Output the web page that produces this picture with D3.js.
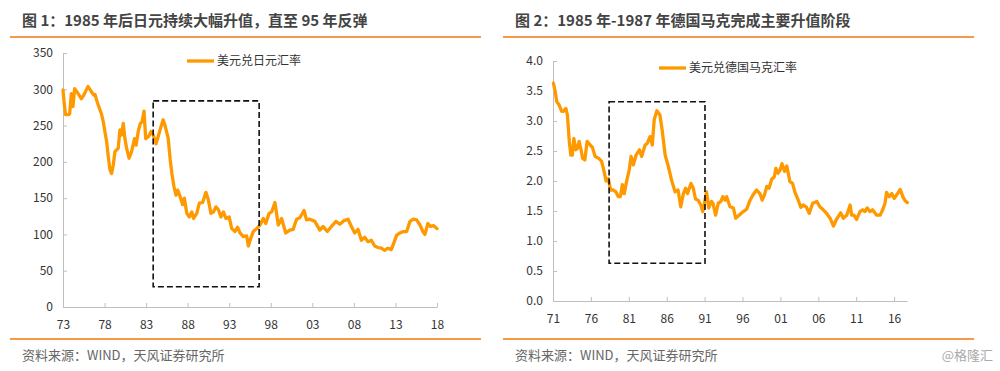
<!DOCTYPE html>
<html>
<head>
<meta charset="utf-8">
<script src="https://cdn.jsdelivr.net/npm/d3@7"></script>
<style>
  body { margin: 0; background: #fff; }
  text { font-family: "Noto Sans CJK SC", "Noto Sans", sans-serif; }
  .axis path, .axis line { stroke: #bfbfbf; }
  .axis text { fill: #333; font-size: 12px; }
</style>
</head>
<body>
<svg id="chart" width="1000" height="371"></svg>
<script>
// ---- data ----
var jpyYears = [1973.0,1973.15,1973.3,1973.6,1973.8,1974.0,1974.2,1974.4,1974.7,1975.2,1975.5,1976.0,1976.4,1976.7,1976.85,1977.05,1977.25,1977.6,1977.85,1978.05,1978.25,1978.45,1978.65,1978.85,1979.05,1979.25,1979.65,1979.85,1980.05,1980.25,1980.45,1980.65,1980.95,1981.25,1981.6,1981.8,1982.05,1982.3,1982.5,1982.75,1982.95,1983.3,1983.6,1983.85,1984.2,1984.45,1984.65,1985.05,1985.3,1985.65,1985.9,1986.1,1986.35,1986.6,1986.8,1987.1,1987.4,1987.6,1987.9,1988.2,1988.5,1988.7,1989.1,1989.4,1989.8,1990.2,1990.5,1990.8,1991.1,1991.4,1991.7,1992.0,1992.3,1992.6,1993.0,1993.3,1993.7,1994.0,1994.3,1994.7,1995.1,1995.3,1995.6,1995.9,1996.3,1996.7,1997.1,1997.4,1997.8,1998.1,1998.5,1998.9,1999.3,1999.8,2000.3,2000.7,2001.1,2001.5,2002.0,2002.3,2002.7,2003.3,2003.9,2004.3,2004.8,2005.3,2005.85,2006.3,2006.8,2007.3,2007.7,2008.1,2008.5,2008.9,2009.3,2009.7,2010.1,2010.5,2010.9,2011.3,2011.7,2012.1,2012.5,2012.8,2013.15,2013.55,2013.95,2014.35,2014.75,2015.15,2015.55,2015.95,2016.3,2016.55,2016.9,2017.2,2017.6,2018.0];
var jpyRates = [299,280,265,265,266,294,276,301,296,287,292,304,297,292,293,285,278,267,255,241,228,207,189,184,196,214,219,244,237,253,232,219,205,214,232,223,242,253,255,270,232,235,242,237,225,235,243,258,249,233,203,184,166,154,161,152,141,150,129,124,131,122,129,143,144,158,147,129,131,138,134,124,131,122,124,108,104,110,102,97,98,84,95,104,108,113,122,115,129,131,144,113,122,102,106,107,121,123,133,120,121,118,106,111,104,111,118,114,119,121,111,102,107,92,96,90,92,84,82,81,78,81,79,88,99,102,104,104,118,121,120,113,104,100,115,111,112,108];

var demYears = [1971.05,1971.25,1971.5,1971.8,1972.15,1972.35,1972.7,1972.9,1973.15,1973.35,1973.55,1973.75,1974.0,1974.2,1974.45,1974.7,1974.9,1975.2,1975.5,1975.9,1976.2,1976.55,1977.0,1977.4,1977.7,1978.0,1978.3,1978.6,1978.95,1979.3,1979.6,1979.9,1980.15,1980.4,1980.7,1981.05,1981.3,1981.6,1981.95,1982.4,1982.7,1983.15,1983.45,1983.8,1984.1,1984.35,1984.7,1985.1,1985.4,1985.8,1986.2,1986.65,1987.1,1987.5,1987.85,1988.2,1988.5,1988.75,1989.2,1989.5,1989.8,1990.15,1990.5,1990.75,1991.05,1991.25,1991.55,1991.9,1992.1,1992.45,1992.8,1993.15,1993.4,1993.7,1993.9,1994.35,1994.8,1995.1,1995.55,1996.1,1996.55,1997.0,1997.4,1997.85,1998.3,1998.6,1998.95,1999.2,1999.5,1999.85,2000.2,2000.4,2000.7,2000.95,2001.2,2001.55,2001.85,2002.25,2002.6,2002.9,2003.35,2003.7,2004.0,2004.4,2004.8,2005.25,2005.8,2006.2,2006.65,2007.1,2007.55,2008.0,2008.35,2008.65,2008.95,2009.3,2009.75,2010.2,2010.4,2010.7,2011.05,2011.5,2011.85,2012.15,2012.45,2012.8,2013.15,2013.7,2014.15,2014.5,2014.8,2015.0,2015.35,2015.7,2016.0,2016.35,2016.8,2017.15,2017.45,2017.75];
var demRates = [3.63,3.52,3.32,3.27,3.16,3.16,3.21,3.10,2.66,2.43,2.43,2.71,2.52,2.54,2.66,2.52,2.38,2.35,2.66,2.60,2.56,2.41,2.38,2.33,2.18,2.00,2.04,1.85,1.85,1.82,1.74,1.74,1.94,1.79,1.99,2.18,2.41,2.27,2.43,2.52,2.41,2.60,2.63,2.74,2.60,3.02,3.17,3.10,2.85,2.43,2.25,2.01,1.82,1.85,1.57,1.79,1.88,1.79,1.96,1.88,1.70,1.68,1.60,1.49,1.68,1.82,1.55,1.66,1.63,1.43,1.63,1.66,1.74,1.68,1.74,1.57,1.55,1.38,1.43,1.49,1.53,1.68,1.77,1.85,1.79,1.68,1.79,1.91,1.88,2.03,2.07,2.21,2.13,2.18,2.29,2.16,2.25,1.99,1.96,1.82,1.68,1.56,1.60,1.57,1.46,1.63,1.66,1.57,1.52,1.46,1.38,1.25,1.35,1.41,1.47,1.38,1.43,1.60,1.43,1.43,1.36,1.49,1.52,1.49,1.55,1.49,1.52,1.43,1.43,1.52,1.63,1.81,1.74,1.79,1.71,1.77,1.86,1.74,1.67,1.64];

var jpyYTicks = [0,50,100,150,200,250,300,350];
var demYTicks = [0,0.5,1,1.5,2,2.5,3,3.5,4];
var jpyXTicks = [1973,1978,1983,1988,1993,1998,2003,2008,2013,2018];
var demXTicks = [1971,1976,1981,1986,1991,1996,2001,2006,2011,2016];

// highlighted period boxes [x0, x1, y0, y1] in data units
var jpyBox = [1983.85, 1996.6, 28, 284];
var demBox = [1978.4, 1991.05, 0.63, 3.32];

var titles = ["图 1：1985 年后日元持续大幅升值，直至 95 年反弹", "图 2：1985 年-1987 年德国马克完成主要升值阶段"];
var legends = ["美元兑日元汇率", "美元兑德国马克汇率"];
var sourceText = "资料来源：WIND，天风证券研究所";

var orange = "#ff9900";
var rule = "#f39a4b";

var svg = d3.select("#chart");

function drawPanel(p){
    var g = svg.append("g").attr("class", "panel");

    // title + rules
    g.append("text").attr("x", p.left + 12).attr("y", 26)
        .style("font-size", "15px").style("font-weight", "bold").style("fill", "#444")
        .text(p.title);
    g.append("line").attr("x1", p.left).attr("x2", p.left + 471).attr("y1", 37).attr("y2", 37)
        .style("stroke", rule).style("stroke-width", 2);
    g.append("line").attr("x1", p.left).attr("x2", p.left + 471).attr("y1", 339).attr("y2", 339)
        .style("stroke", rule).style("stroke-width", 2);
    g.append("text").attr("x", p.left + 12).attr("y", 360)
        .style("font-size", "13px").style("fill", "#666")
        .text(sourceText);

    var x = d3.scaleLinear().domain(p.xDomain).range(p.xRange);
    var y = d3.scaleLinear().domain(p.yDomain).range(p.yRange);

    // axes, ticks point inward
    var yAxis = d3.axisLeft(y).tickValues(p.yTicks).tickSizeInner(-4).tickSizeOuter(0)
        .tickPadding(10).tickFormat(p.yFormat);
    g.append("g").attr("class", "axis").attr("transform", "translate(" + p.xRange[0] + ",0)")
        .call(yAxis);

    var xAxis = d3.axisBottom(x).tickValues(p.xTicks).tickSizeInner(-4).tickSizeOuter(0)
        .tickPadding(13).tickFormat(function(d){ return d3.format("02d")(d % 100); });
    g.append("g").attr("class", "axis").attr("transform", "translate(0," + p.yRange[0] + ")")
        .call(xAxis);

    // the series
    var pts = p.years.map(function(d, i){ return [d, p.rates[i]]; });
    var line = d3.line().x(function(d){ return x(d[0]); }).y(function(d){ return y(d[1]); });
    g.append("path").datum(pts).attr("d", line)
        .style("fill", "none").style("stroke", orange).style("stroke-width", 3.3)
        .style("stroke-linejoin", "round").style("stroke-linecap", "round");

    // dashed box
    g.append("rect")
        .attr("x", x(p.box[0])).attr("y", y(p.box[3]))
        .attr("width", x(p.box[1]) - x(p.box[0])).attr("height", y(p.box[2]) - y(p.box[3]))
        .style("fill", "none").style("stroke", "#111").style("stroke-width", 1.6)
        .style("stroke-dasharray", "6,3");

    // legend
    g.append("line").attr("x1", p.legendX).attr("x2", p.legendX + 27)
        .attr("y1", p.legendY).attr("y2", p.legendY)
        .style("stroke", orange).style("stroke-width", 3.3);
    g.append("text").attr("x", p.legendX + 30).attr("y", p.legendY + 4)
        .style("font-size", "12px").style("fill", "#333")
        .text(p.legend);
}

drawPanel({
    left: 10, title: titles[0], legend: legends[0],
    years: jpyYears, rates: jpyRates,
    xDomain: [1973, 2018], xRange: [63, 437],
    yDomain: [0, 350], yRange: [307, 53],
    xTicks: jpyXTicks, yTicks: jpyYTicks, yFormat: d3.format("d"),
    box: jpyBox, legendX: 187, legendY: 61
});

drawPanel({
    left: 503, title: titles[1], legend: legends[1],
    years: demYears, rates: demRates,
    xDomain: [1971, 2017.7], xRange: [553, 907],
    yDomain: [0, 4], yRange: [301, 61],
    xTicks: demXTicks, yTicks: demYTicks, yFormat: d3.format(".1f"),
    box: demBox, legendX: 659, legendY: 68
});

// watermark
svg.append("text").attr("x", 993).attr("y", 360).attr("text-anchor", "end")
    .style("font-size", "13px").style("fill", "#aaa")
    .text("@格隆汇");
</script>
</body>
</html>
